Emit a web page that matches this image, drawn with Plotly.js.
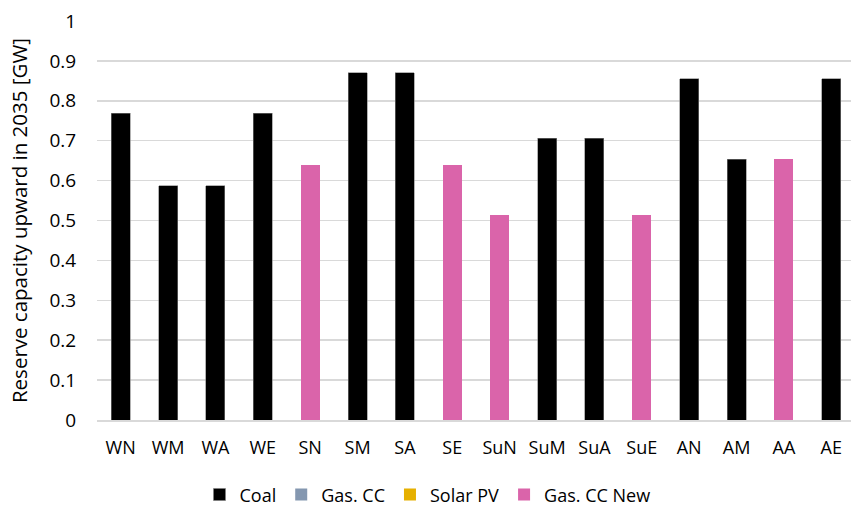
<!DOCTYPE html>
<html>
<head>
<meta charset="utf-8">
<script src="https://cdn.plot.ly/plotly-3.0.1.min.js"></script>
<style>
  html, body { margin: 0; padding: 0; overflow: hidden; background: #fff; }
  #chart { width: 855px; height: 508px; }
</style>
</head>
<body>
<div id="chart"></div>
<script>
// Scenario categories along the x axis
const categories = ["WN", "WM", "WA", "WE", "SN", "SM", "SA", "SE",
                    "SuN", "SuM", "SuA", "SuE", "AN", "AM", "AA", "AE"];

// Upward reserve capacity in 2035 [GW] by technology
const coal      = [0.769, 0.587, 0.587, 0.769, null, 0.870, 0.870, null,
                   null, 0.706, 0.706, null, 0.855, 0.653, null, 0.855];
const gasCC     = [null, null, null, null, null, null, null, null,
                   null, null, null, null, null, null, null, null];
const solarPV   = [null, null, null, null, null, null, null, null,
                   null, null, null, null, null, null, null, null];
const gasCCNew  = [null, null, null, null, 0.638, null, null, 0.638,
                   0.514, null, null, 0.514, null, null, 0.653, null];

const seriesNames = ["Coal", "Gas. CC", "Solar PV", "Gas. CC New"];
const yTicks = [0, 0.1, 0.2, 0.3, 0.4, 0.5, 0.6, 0.7, 0.8, 0.9, 1];
const yTickText = ["0", "0.1", "0.2", "0.3", "0.4", "0.5", "0.6", "0.7", "0.8", "0.9", "1"];

const colors = ["#000000", "#8497B0", "#E6B000", "#DA64AA"];
const values = [coal, gasCC, solarPV, gasCCNew];

const traces = values.map((v, i) => ({
  type: "bar",
  name: seriesNames[i],
  x: categories,
  y: v,
  marker: { color: colors[i], line: { color: "#7f7f7f", width: i === 0 ? 0.6 : 0 } },
  hoverinfo: "x+y+name"
}));

const font = "'Open Sans', 'Liberation Sans', sans-serif";

const layout = {
  width: 855,
  height: 508,
  margin: { l: 97, r: 0, t: 21, b: 88, autoexpand: false },
  paper_bgcolor: "#ffffff",
  plot_bgcolor: "#ffffff",
  barmode: "stack",
  bargap: 0.6,
  font: { family: font, size: 18, color: "#000000" },
  showlegend: true,
  legend: {
    orientation: "h",
    traceorder: "normal",
    xref: "container", yref: "container",
    x: 0.5, xanchor: "center",
    y: 0.026, yanchor: "middle",
    font: { family: font, size: 18, color: "#000" },
    itemclick: false
  },
  xaxis: {
    type: "category",
    showgrid: false,
    showline: true,
    linecolor: "#d9d9d9",
    linewidth: 1.5,
    ticks: "outside",
    ticklen: 11,
    tickcolor: "rgba(0,0,0,0)",
    tickfont: { family: font, size: 18, color: "#000" }
  },
  yaxis: {
    range: [0, 1],
    tickvals: yTicks,
    ticktext: yTickText,
    showgrid: true,
    gridcolor: "#d9d9d9",
    gridwidth: 1.5,
    zeroline: false,
    showline: false,
    ticks: "outside",
    ticklen: 16,
    tickcolor: "rgba(0,0,0,0)",
    tickfont: { family: font, size: 19, color: "#000" },
    title: {
      text: "Reserve capacity upward in 2035 [GW]",
      font: { family: font, size: 20.5, color: "#000" },
      standoff: 16
    }
  }
};

Plotly.newPlot("chart", traces, layout, { displayModeBar: false, staticPlot: true });
</script>
</body>
</html>
